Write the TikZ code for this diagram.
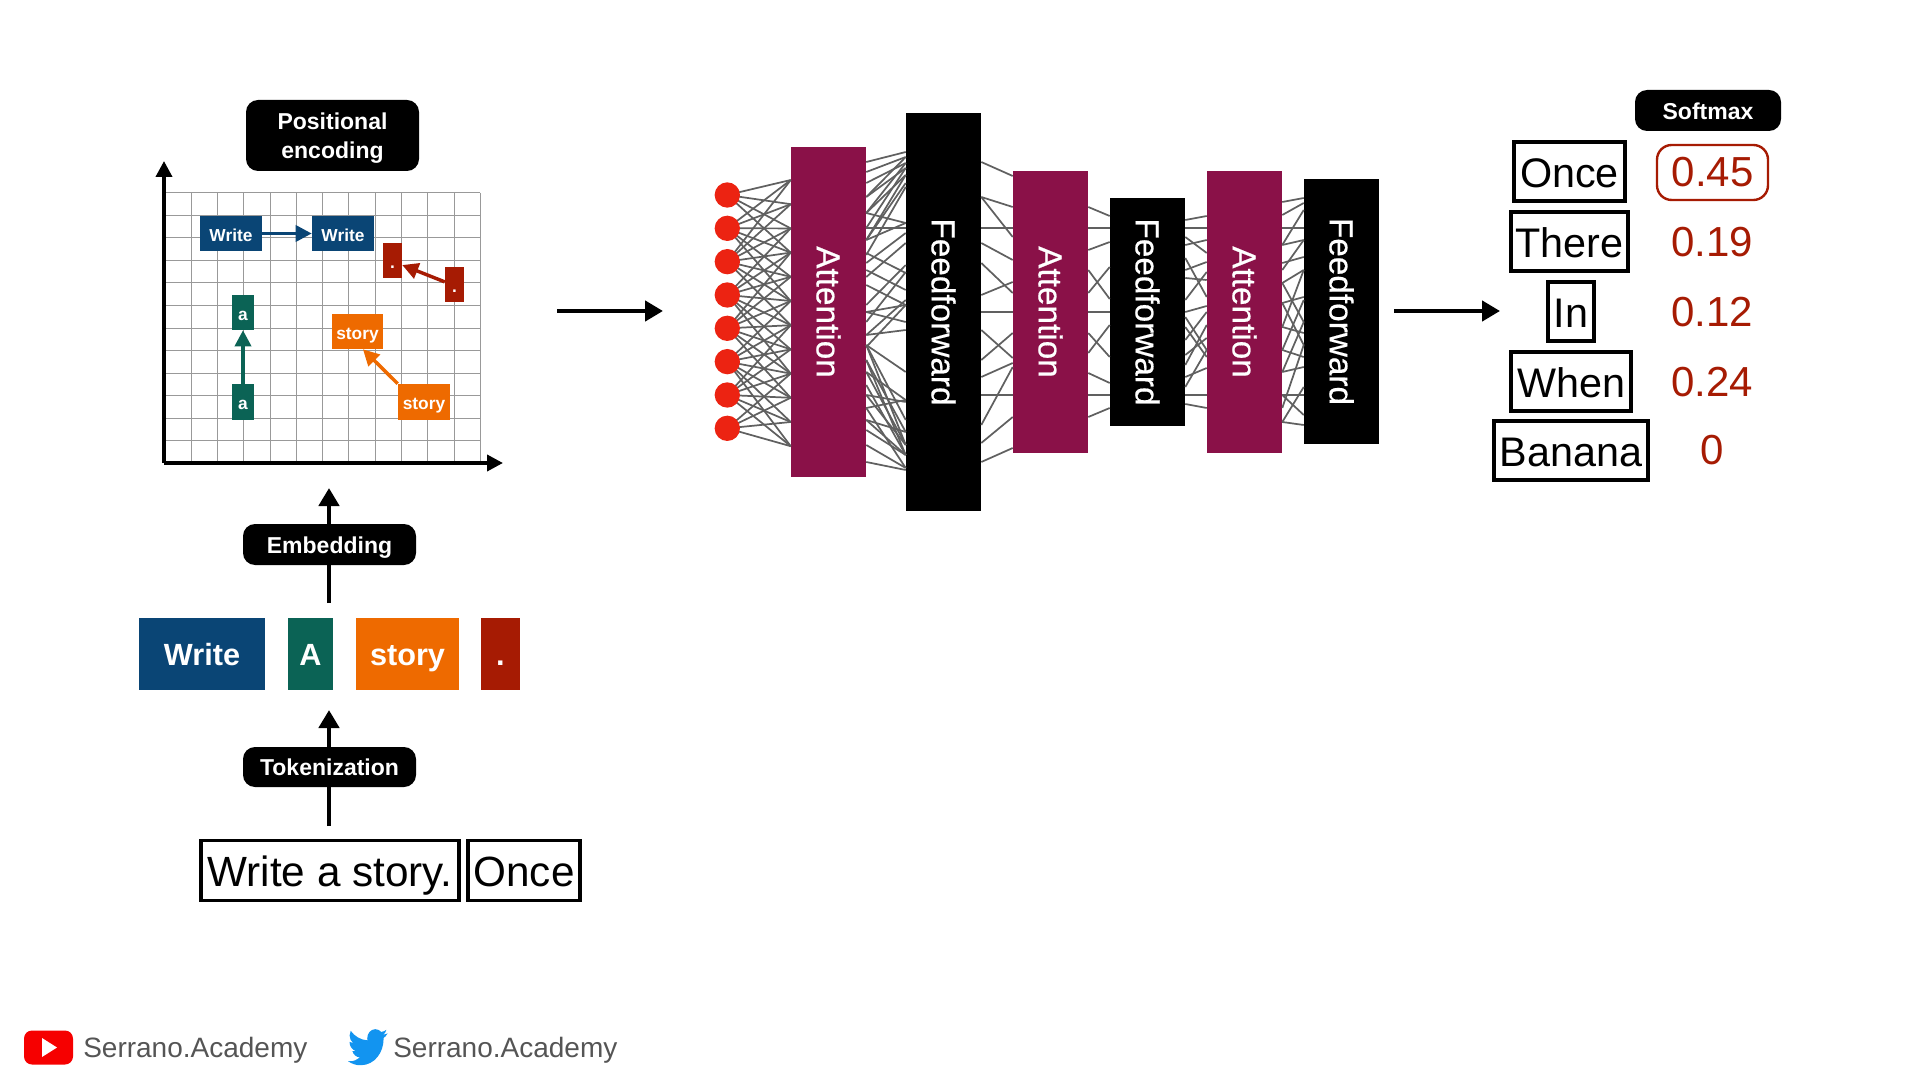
\documentclass[tikz,border=0pt]{standalone}
\usepackage{fontspec}
\usepackage{graphicx}
\usetikzlibrary{arrows.meta}
\setmainfont{Liberation Sans}
\newfontfamily\mediumfont[FakeBold=0.5]{Liberation Sans}

\definecolor{wblue}{HTML}{0A4575}
\definecolor{ateal}{HTML}{0B6355}
\definecolor{sorange}{HTML}{EE6A00}
\definecolor{ddred}{HTML}{A61B03}
\definecolor{attcol}{HTML}{8A1148}
\definecolor{dotred}{HTML}{EC2312}
\definecolor{wirecol}{HTML}{606060}
\definecolor{ytred}{HTML}{F60000}
\definecolor{twblue}{HTML}{1294F0}
\definecolor{footgray}{HTML}{555555}

\tikzset{
  wh/.style 2 args={minimum width=#1*.75pt, minimum height=#2*.75pt, inner sep=0pt},
  pill/.style={fill=black, text=white, rounded corners=9pt, font=\fontsize{17.25}{21.8}\selectfont\bfseries},
  pillone/.style={pill, text height=17pt, text depth=4pt},
  token/.style={text=white, font=\fontsize{23}{26}\selectfont\bfseries, text height=21.5pt, text depth=5pt},
  mini/.style={text=white, font=\fontsize{13}{15}\selectfont\bfseries, text height=15pt, text depth=3pt},
  word/.style={draw=black, line width=2.3pt, font=\fontsize{31.7}{35}\selectfont, text height=31pt, text depth=7pt},
  rword/.style={word, font=\fontsize{31}{35}\selectfont},
  score/.style={text=ddred, font=\fontsize{31.5}{35}\selectfont},
  layer/.style={text=white, font=\fontsize{25}{28}\selectfont\mediumfont},
  neuron/.style={circle, fill=dotred, minimum size=19pt, inner sep=0pt},
  wire/.style={wirecol, line width=1.3pt},
  gridline/.style={black!40, line width=.7pt},
  flow/.style={line width=3.3pt, -{Triangle[length=13.5pt, width=15pt]}},
  axis/.style={line width=2.8pt, -{Triangle[length=12pt, width=12pt]}},
  shift arrow/.style={line width=2.6pt, -{Triangle[length=12pt, width=12pt]}},
  foot/.style={text=footgray, font=\fontsize{21}{24}\selectfont, inner sep=0pt},
}

% wires between two layers, given as y pairs
\newcommand{\wires}[3]{%
  \foreach \a/\b in {#3}
    \draw[wire] (#1.east |- 0,\a) -- (#2.west |- 0,\b);
}

\begin{document}
\begin{tikzpicture}[x=.75pt,y=-.75pt]
  \useasboundingbox (0,0) rectangle (1920,1080);

  % Grid
  \foreach \i in {0,...,12}
    \draw[gridline] ({165+\i*26.27},192.7) -- ({165+\i*26.27},463.3);
  \foreach \i in {0,...,11}
    \draw[gridline] (165,{192.7+\i*22.55}) -- (480.3,{192.7+\i*22.55});

  % Axes
  \coordinate (origin) at (164,463);
  \coordinate (ytop) at (164,161);
  \coordinate (xend) at (503,463);
  \draw[axis] (origin) -- (ytop);
  \draw[axis] (origin) -- (xend);

  % Shifted words
  \node[mini, wh={62}{35}, fill=wblue] (writea) at (231,233.5) {Write};
  \node[mini, wh={62}{35}, fill=wblue] (writeb) at (343,233.5) {Write};
  \node[mini, wh={19}{35}, fill=ddred] (dota) at (392.5,260.5) {.};
  \node[mini, wh={19}{35}, fill=ddred] (dotb) at (454.5,284.5) {.};
  \node[mini, wh={22}{35}, fill=ateal] (aa) at (243,312.5) {a};
  \node[mini, wh={22}{36}, fill=ateal] (ab) at (243,402) {a};
  \node[mini, wh={51}{35}, fill=sorange] (storya) at (357.5,331.5) {story};
  \node[mini, wh={52}{36}, fill=sorange] (storyb) at (424,402) {story};

  \draw[shift arrow, wblue] (writea) -- (writeb);
  \draw[shift arrow, ddred] (dotb.165) -- (dota.-25);
  \draw[shift arrow, ateal] (ab) -- (aa);
  \draw[shift arrow, sorange] (storyb.north west) -- (storya.-73);

  % Labels on the left
  \node[pill, wh={173}{71}, align=center] (posenc) at (332.5,135.5) {\rule{0pt}{17pt}Positional\\encoding};
  \coordinate (embfrom) at (329,603);
  \coordinate (embto) at (329,488);
  \coordinate (tokfrom) at (329,826);
  \coordinate (tokto) at (329,710);
  \draw[flow] (embfrom) -- (embto);
  \draw[flow] (tokfrom) -- (tokto);
  \node[pillone, wh={173}{41}] (embed) at (329.5,544.5) {Embedding};
  \node[pillone, wh={173}{40}] (tokenize) at (329.5,767) {Tokenization};

  % Tokens
  \node[token, wh={126}{72}, fill=wblue] (tkwrite) at (202,654) {Write};
  \node[token, wh={45}{72}, fill=ateal] (tka) at (310.5,654) {A};
  \node[token, wh={103}{72}, fill=sorange] (tkstory) at (407.5,654) {story};
  \node[token, wh={39}{72}, fill=ddred] (tkdot) at (500.5,654) {.};

  % Input
  \node[word, wh={258}{60}] (prompt) at (330,870.5) {Write a story.};
  \node[word, wh={112}{60}] (once) at (524,870.5) {Once};

  % Arrows around the network
  \coordinate (ina) at (557,311);
  \coordinate (inb) at (663,311);
  \coordinate (outa) at (1394,311);
  \coordinate (outb) at (1500,311);
  \draw[flow] (ina) -- (inb);
  \draw[flow] (outa) -- (outb);

  % Layers
  \node[layer, wh={75}{330}, fill=attcol] (atta) at (828.5,312) {\rotatebox{-90}{Attention}};
  \node[layer, wh={75}{398}, fill=black] (ffa) at (943.5,312) {\rotatebox{-90}{Feedforward}};
  \node[layer, wh={75}{282}, fill=attcol] (attb) at (1050.5,312) {\rotatebox{-90}{Attention}};
  \node[layer, wh={75}{228}, fill=black] (ffb) at (1147.5,312) {\rotatebox{-90}{Feedforward}};
  \node[layer, wh={75}{282}, fill=attcol] (attc) at (1244.5,312) {\rotatebox{-90}{Attention}};
  \node[layer, wh={75}{265}, fill=black] (ffc) at (1341.5,311.5) {\rotatebox{-90}{Feedforward}};

  % Inputs to first attention
  \foreach \i in {0,...,7}
    \coordinate (c\i) at (727.3,{195+\i*33.33});
  \foreach \i in {0,...,7}
    \foreach \j in {0,...,11}{
      \pgfmathtruncatemacro\near{abs(\j-\i*11/7)<3.6}
      \pgfmathsetmacro\yp{180+\j*24.2}
      \ifnum\near=1
        \draw[wire] (c\i) -- (atta.west |- 0,\yp);
      \fi
    }
  \foreach \i in {0,...,7}
    \node[neuron] (n\i) at (c\i) {};

  % Wires between layers
  \wires{atta}{ffa}{162/152,172/157,183/163,197/168,213/175,240/183,197/157,213/163,228/168,240/175,255/187}
  \wires{atta}{ffa}{213/223,228/228,240/223,263/233,277/243,253/273,270/290,285/305,305/265,312/305,312/322,322/272,335/300,335/330,347/305}
  \wires{atta}{ffa}{345/372,360/432,345/445,372/445,372/400,385/455,395/402,408/400,395/445,420/455,408/468,430/455,445/468,462/470,420/432,345/420,360/455}
  \wires{ffa}{attb}{162/176,197/207,197/237,228/228,243/260,263/293,295/282,312/312,330/358,360/333,377/363,395/395,425/367,443/417,462/448}
  \wires{attb}{ffb}{207/216,228/228,250/242,270/299,293/267,312/312,333/357,353/325,373/383,395/395,417/408}
  \wires{ffb}{attc}{220/216,228/228,237/253,245/240,258/297,270/262,278/280,300/272,312/306,317/350,327/357,340/312,355/338,365/325,377/368,387/350,395/395,404/408}
  \wires{attc}{ffc}{202/198,215/203,228/228,245/210,245/240,263/257,270/240,283/270,283/322,303/297,303/345,327/270,327/333,350/357,350/300,372/367,372/322,395/395,395/415,408/345,422/425,422/387}

  % Output words and scores
  \node[pillone, wh={146}{41}] (softmax) at (1708,110.5) {Softmax};
  \node[rword, wh={111}{59}] (wonce) at (1569.5,171.5) {Once};
  \node[rword, wh={117}{59}] (wthere) at (1569.5,241.5) {There};
  \node[rword, wh={46}{59}] (win) at (1571,311.5) {In};
  \node[rword, wh={120}{59}] (wwhen) at (1571,381.5) {When};
  \node[rword, wh={154}{59}] (wbanana) at (1571,450.5) {Banana};
  \node[score, wh={111}{55}, draw=ddred, line width=1.8pt, rounded corners=11pt] (sonce) at (1712.5,172.5) {0.45};
  \node[score] (sthere) at (1712,242) {0.19};
  \node[score] (sin) at (1712,312) {0.12};
  \node[score] (swhen) at (1712,382) {0.24};
  \node[score] (sbanana) at (1712,450) {0};

  % Footer
  \node[wh={49}{34}, fill=ytred, rounded corners=6pt] (yt) at (48.5,1047.5) {};
  \fill[white] (42,1038) -- (42,1057) -- (57,1047.5) -- cycle;
  \node[foot, anchor=west] (ytname) at (83,1050.5) {Serrano.Academy};
  \begin{scope}[shift={(348,1025)}, xscale=1.65, yscale=1.85]
    \fill[twblue] (23.95,4.57) .. controls (23.1,4.95) and (22.1,5.2) .. (21.13,5.35)
      .. controls (22.1,4.75) and (22.9,3.75) .. (23.29,2.62)
      .. controls (22.34,3.18) and (21.29,3.58) .. (20.16,3.81)
      .. controls (19.26,2.85) and (18,2.25) .. (16.57,2.25)
      .. controls (13.85,2.25) and (11.65,4.45) .. (11.65,7.17)
      .. controls (11.65,7.55) and (11.7,7.95) .. (11.78,8.29)
      .. controls (7.69,8.1) and (4.07,6.13) .. (1.64,3.16)
      .. controls (1.22,3.89) and (0.97,4.73) .. (0.97,5.64)
      .. controls (0.97,7.35) and (1.84,8.85) .. (3.16,9.73)
      .. controls (2.37,9.71) and (1.6,9.49) .. (0.93,9.12)
      -- (0.93,9.18)
      .. controls (0.93,11.56) and (2.62,13.55) .. (4.88,14)
      .. controls (4.16,14.19) and (3.4,14.22) .. (2.66,14.09)
      .. controls (3.28,16.05) and (5.09,17.46) .. (7.27,17.5)
      .. controls (5.59,18.82) and (3.47,19.6) .. (1.17,19.6)
      .. controls (0.78,19.6) and (0.39,19.58) .. (0,19.54)
      .. controls (2.19,20.93) and (4.78,21.75) .. (7.56,21.75)
      .. controls (16.61,21.75) and (21.56,14.25) .. (21.55,7.76)
      -- (21.53,7.13)
      .. controls (22.49,6.44) and (23.32,5.53) .. (24,4.59) -- cycle;
  \end{scope}
  \node[foot, anchor=west] (twname) at (393,1050.5) {Serrano.Academy};
\end{tikzpicture}
\end{document}
